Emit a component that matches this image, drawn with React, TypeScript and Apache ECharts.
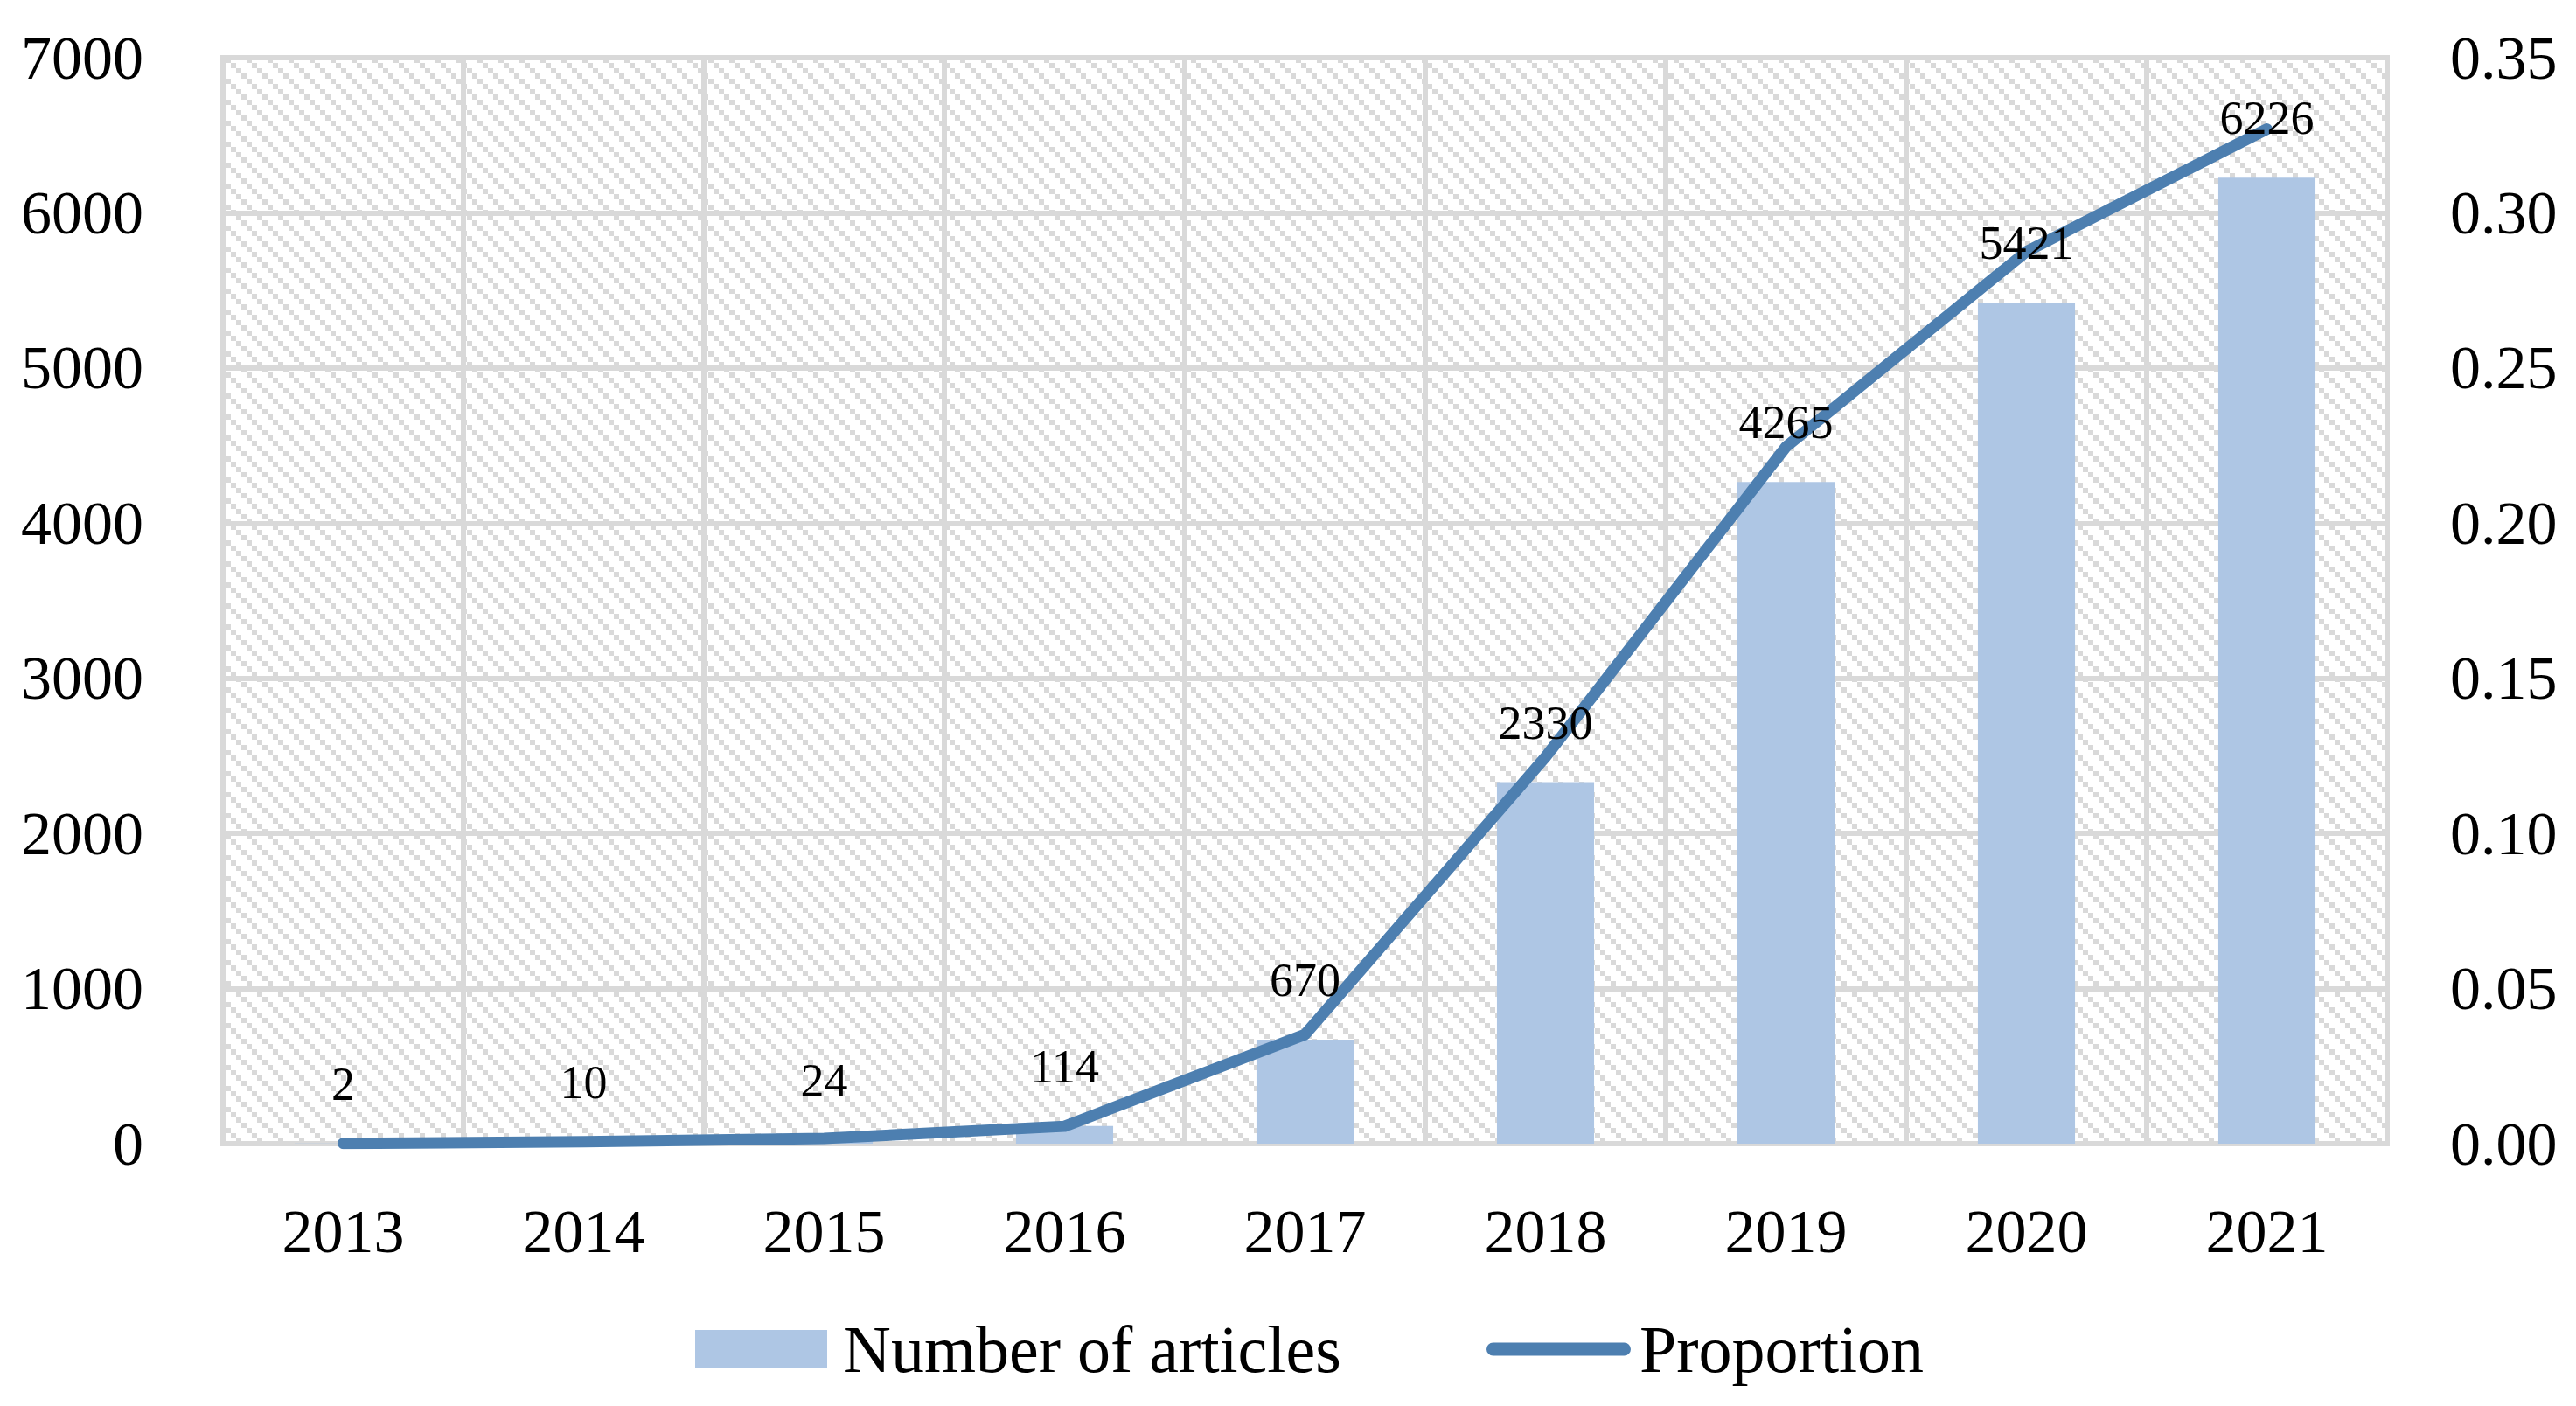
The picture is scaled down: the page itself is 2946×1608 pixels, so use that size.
import React, { useEffect, useRef } from "react";
import * as echarts from "echarts";

const years = ["2013", "2014", "2015", "2016", "2017", "2018", "2019", "2020", "2021"];
const articles = [2, 10, 24, 114, 670, 2330, 4265, 5421, 6226];
const proportion = [0.0001, 0.0006, 0.0017, 0.0056, 0.0352, 0.1246, 0.2246, 0.2875, 0.327];
const leftAxisRange = { min: 0, max: 7000, interval: 1000 };
const rightAxisRange = { min: 0, max: 0.35, interval: 0.05 };
const seriesNames = ["Number of articles", "Proportion"];

const FONT = "Liberation Serif";
const GRID_GRAY = "#d9d9d9";
const BAR_COLOR = "#aec6e4";
const LINE_COLOR = "#4d7fb0";

function makeHatch(): HTMLCanvasElement {
  const c = document.createElement("canvas");
  c.width = 24;
  c.height = 24;
  const ctx = c.getContext("2d")!;
  ctx.fillStyle = "#ffffff";
  ctx.fillRect(0, 0, 24, 24);
  ctx.fillStyle = GRID_GRAY;
  for (let i = 0; i < 4; i++) ctx.fillRect(i * 6, i * 6, 6, 6);
  return c;
}

export default function App() {
  const ref = useRef<HTMLDivElement>(null);

  useEffect(() => {
    if (!ref.current) return;
    const chart = echarts.init(ref.current, undefined, { renderer: "svg" });
    const hatch = makeHatch();
    const option: any = {
      animation: false,
      backgroundColor: "#ffffff",
      textStyle: { fontFamily: FONT, color: "#000" },
      grid: {
        left: 255,
        right: 216,
        top: 66,
        bottom: 300,
        show: true,
        backgroundColor: { image: hatch, repeat: "repeat" },
        borderColor: GRID_GRAY,
        borderWidth: 6,
      },
      legend: [
        {
          data: [{ name: seriesNames[0], icon: "rect" }],
          left: 790,
          top: 1500,
          itemWidth: 151,
          itemHeight: 44,
          selectedMode: false,
          textStyle: { fontFamily: FONT, fontSize: 76, color: "#000", padding: [0, 0, 0, 13] },
        },
        {
          data: [
            {
              name: seriesNames[1],
              icon: "path://M7.5,0H157.5A7.5,7.5,0,0,1,157.5,15H7.5A7.5,7.5,0,0,1,7.5,0Z",
            },
          ],
          left: 1695,
          top: 1500,
          itemWidth: 165,
          itemHeight: 15,
          selectedMode: false,
          textStyle: { fontFamily: FONT, fontSize: 76, color: "#000", padding: [0, 0, 0, 5] },
        },
      ],
      xAxis: {
        type: "category",
        data: years,
        boundaryGap: true,
        axisLine: { show: false },
        axisTick: { show: false },
        axisLabel: { fontFamily: FONT, fontSize: 70, color: "#000", margin: 65, interval: 0 },
        splitLine: { show: true, interval: 0, lineStyle: { color: GRID_GRAY, width: 6 } },
      },
      yAxis: [
        {
          type: "value",
          min: leftAxisRange.min,
          max: leftAxisRange.max,
          interval: leftAxisRange.interval,
          axisLine: { show: false },
          axisTick: { show: false },
          axisLabel: {
            fontFamily: FONT,
            fontSize: 70,
            color: "#000",
            margin: 91,
            formatter: (v: number) => String(v),
          },
          splitLine: { show: true, lineStyle: { color: GRID_GRAY, width: 6 } },
        },
        {
          type: "value",
          min: rightAxisRange.min,
          max: rightAxisRange.max,
          interval: rightAxisRange.interval,
          position: "right",
          axisLine: { show: false },
          axisTick: { show: false },
          axisLabel: {
            fontFamily: FONT,
            fontSize: 70,
            color: "#000",
            margin: 72,
            formatter: (v: number) => v.toFixed(2),
          },
          splitLine: { show: false },
        },
      ],
      series: [
        {
          name: seriesNames[0],
          type: "bar",
          data: articles,
          barWidth: "40.4%",
          color: BAR_COLOR,
          itemStyle: { color: BAR_COLOR },
          z: 2,
        },
        {
          name: seriesNames[1],
          type: "line",
          yAxisIndex: 1,
          data: proportion,
          symbol: "none",
          smooth: false,
          color: LINE_COLOR,
          itemStyle: { color: LINE_COLOR },
          lineStyle: { color: LINE_COLOR, width: 13, cap: "round", join: "round" },
          z: 3,
        },
        {
          name: "articleLabels",
          type: "scatter",
          data: articles,
          symbolSize: 0,
          silent: true,
          itemStyle: { color: "rgba(0,0,0,0)", opacity: 1 },
          label: {
            show: true,
            position: "top",
            distance: 41,
            fontFamily: FONT,
            fontSize: 54,
            color: "#000000",
            opacity: 1,
          },
          z: 5,
        },
      ],
    };
    chart.setOption(option);
    return () => chart.dispose();
  }, []);

  return (
    <div
      ref={ref}
      style={{ position: "fixed", left: 0, top: 0, width: 2946, height: 1608, background: "#fff" }}
    />
  );
}
